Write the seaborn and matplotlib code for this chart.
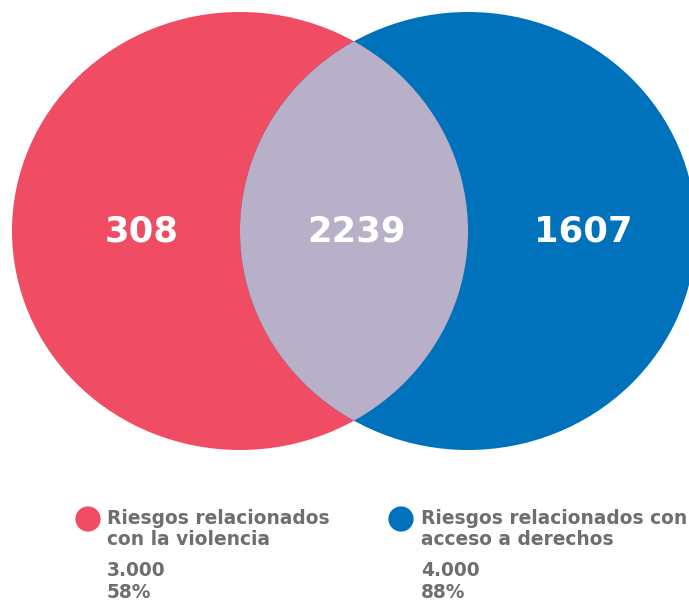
import matplotlib
matplotlib.use("Agg")
import matplotlib.pyplot as plt
from matplotlib.patches import Ellipse
import seaborn as sns
import pandas as pd

# venn values
solo_violencia = 308
interseccion = 2239
solo_derechos = 1607

series_names = ["Riesgos relacionados\ncon la violencia", "Riesgos relacionados con\nacceso a derechos"]
series_totals = ["3.000", "4.000"]
series_pct = ["58%", "88%"]
series_colors = ["#F04C63", "#0072BB"]
lens_color = "#B8B0C8"
text_grey = "#6E6E6E"

sns.set_style("white")
plt.rcParams["font.family"] = ["DejaVu Sans"]

fig = plt.figure(figsize=(6.89, 6.03), dpi=100)
ax = fig.add_axes([0, 0, 1, 1])
ax.set_xlim(0, 689)
ax.set_ylim(603, 0)
ax.axis("off")

# circles (pixel layout)
left = Ellipse((240, 231), 456, 438, color=series_colors[0], lw=0)
right = Ellipse((468, 231), 456, 438, color=series_colors[1], lw=0)
ax.add_patch(left)
ax.add_patch(right)
lens = Ellipse((240, 231), 456, 438, color=lens_color, lw=0)
ax.add_patch(lens)
lens.set_clip_path(right)

for x, v in [(142, solo_violencia), (357, interseccion), (583, solo_derechos)]:
    ax.text(x, 231, str(v), color="white", fontsize=25.5, fontweight="bold",
            ha="center", va="center")

# legend
leg = pd.DataFrame({"x": [88, 401], "y": [519, 519], "s": series_names})
sns.scatterplot(data=leg, x="x", y="y", hue="s", palette=series_colors,
                s=330, linewidth=0, legend=False, ax=ax)
for i, x in enumerate([107, 421]):
    ax.text(x, 509, series_names[i], color=text_grey, fontsize=13.4,
            fontweight="bold", ha="left", va="top", linespacing=1.12)
    ax.text(x, 571, series_totals[i], color=text_grey, fontsize=13.4,
            fontweight="bold", ha="left", va="center")
    ax.text(x, 593, series_pct[i], color=text_grey, fontsize=13.4,
            fontweight="bold", ha="left", va="center")
ax.set_xlim(0, 689)
ax.set_ylim(603, 0)

fig.savefig("out.png", dpi=100)
